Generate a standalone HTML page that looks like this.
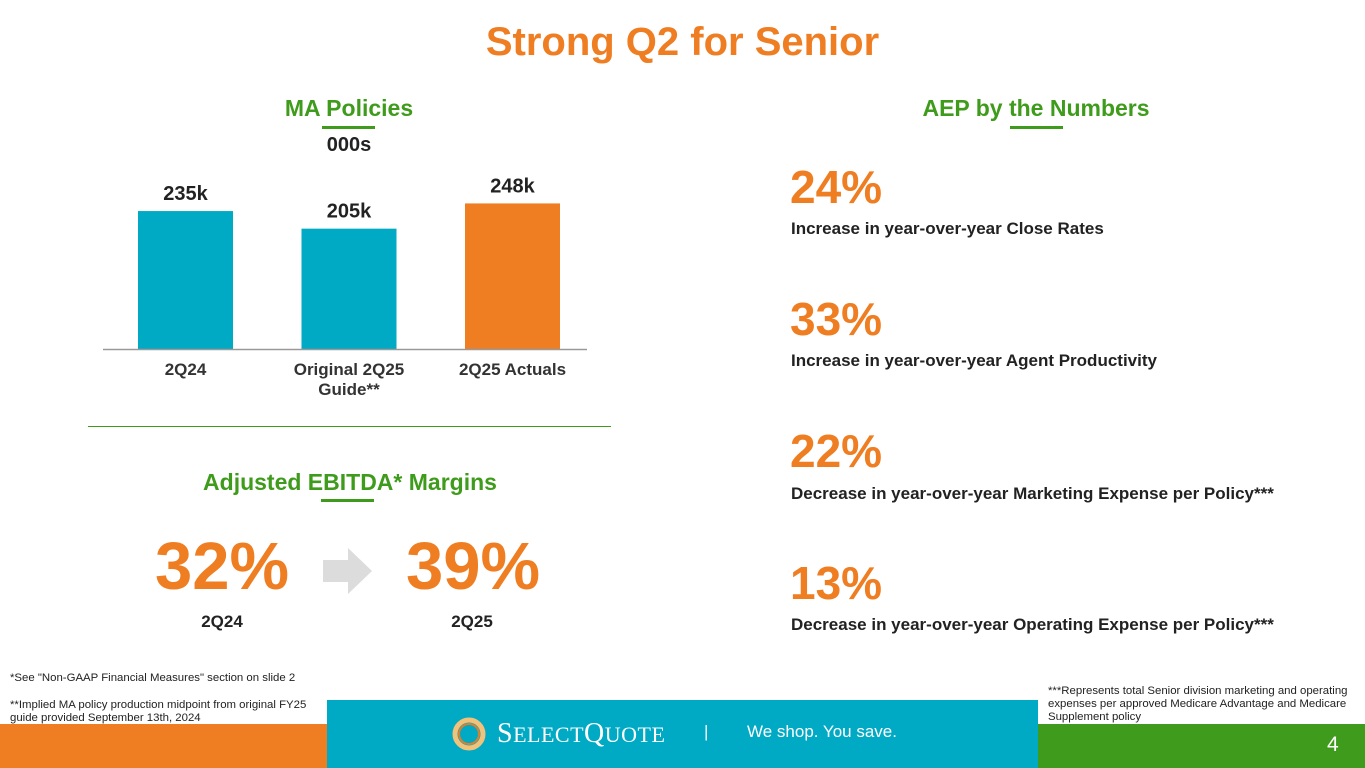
<!DOCTYPE html>
<html><head><meta charset="utf-8"><style>
body{margin:0;width:1365px;height:768px;position:relative;overflow:hidden;background:#fff;font-family:"Liberation Sans",Arial,sans-serif}
.a{position:absolute;white-space:nowrap}
.b{font-weight:bold}
.g{color:#3f9b1b}.o{color:#ef7d22}
.ul{position:absolute;height:3px;background:#3f9b1b}
.desc{font-size:17px;font-weight:bold;color:#222}
.num{font-size:46px;font-weight:bold;color:#ef7d22}
.fn{font-size:11.4px;color:#222;line-height:13px}
</style></head><body>
<div class="a b o" style="left:0;width:1365px;text-align:center;top:20px;font-size:40px">Strong Q2 for Senior</div>

<div class="a b g" style="left:249px;width:200px;text-align:center;top:95px;font-size:23px">MA Policies</div>
<div class="ul" style="left:322px;top:126px;width:53px"></div>
<div class="a b" style="left:299px;width:100px;text-align:center;top:134px;font-size:20px;color:#222">000s</div>

<svg class="a" style="left:0;top:0" width="620" height="420" id="chart"></svg>

<div class="a" style="left:88px;top:426px;width:523px;height:1px;background:#3f9b1b"></div>

<div class="a b g" style="left:150px;width:400px;text-align:center;top:469px;font-size:23px">Adjusted EBITDA* Margins</div>
<div class="ul" style="left:321px;top:499px;width:53px"></div>
<div class="a b o" style="left:155px;top:528px;font-size:67px">32%</div>
<svg class="a" style="left:323px;top:548px" width="50" height="46"><polygon points="0,12 25,12 25,0 49,23 25,46 25,34 0,34" fill="#dcdcdc"/></svg>
<div class="a b o" style="left:406px;top:528px;font-size:67px">39%</div>
<div class="a b" style="left:172px;width:100px;text-align:center;top:612px;font-size:17px;color:#222">2Q24</div>
<div class="a b" style="left:422px;width:100px;text-align:center;top:612px;font-size:17px;color:#222">2Q25</div>

<div class="a b g" style="left:886px;width:300px;text-align:center;top:95px;font-size:23px">AEP by the Numbers</div>
<div class="ul" style="left:1010px;top:126px;width:53px"></div>

<div class="a num" style="left:790px;top:160px">24%</div>
<div class="a desc" style="left:791px;top:219px">Increase in year-over-year Close Rates</div>
<div class="a num" style="left:790px;top:292px">33%</div>
<div class="a desc" style="left:791px;top:351px">Increase in year-over-year Agent Productivity</div>
<div class="a num" style="left:790px;top:424px">22%</div>
<div class="a desc" style="left:791px;top:484px">Decrease in year-over-year Marketing Expense per Policy***</div>
<div class="a num" style="left:790px;top:556px">13%</div>
<div class="a desc" style="left:791px;top:615px">Decrease in year-over-year Operating Expense per Policy***</div>

<div class="a fn" style="left:10px;top:672px">*See "Non-GAAP Financial Measures" section on slide 2</div>
<div class="a fn" style="left:10px;top:699px">**Implied MA policy production midpoint from original FY25<br>guide provided September 13th, 2024</div>
<div class="a fn" style="left:1048px;top:685px">***Represents total Senior division marketing and operating<br>expenses per approved Medicare Advantage and Medicare<br>Supplement policy</div>

<div class="a" style="left:0;top:724px;width:327px;height:44px;background:#ef7d22"></div>
<div class="a" style="left:327px;top:700px;width:711px;height:68px;background:#00a9c4"></div>
<div class="a" style="left:1038px;top:724px;width:327px;height:44px;background:#3f9b1b"></div>
<svg class="a" style="left:451px;top:716px" width="36" height="36"><circle cx="18" cy="18" r="14" fill="none" stroke="#f3c27a" stroke-width="5"/><circle cx="18" cy="18" r="10" fill="none" stroke="#e07f2a" stroke-width="2"/></svg>
<div class="a" style="left:497px;top:718px;font-family:'Liberation Serif',serif;font-size:28px;color:#fff;letter-spacing:0.5px">S<span style="font-size:22px">ELECT</span>Q<span style="font-size:22px">UOTE</span></div>
<div class="a" style="left:704px;top:722px;font-size:17px;color:#fff">|</div>
<div class="a" style="left:747px;top:722px;font-size:17px;color:#fff">We shop. You save.</div>
<div class="a" style="left:1327px;top:733px;font-size:21px;color:#fff">4</div>

<script>
const categories = ["2Q24", "Original 2Q25|Guide**", "2Q25 Actuals"];
const values = [235, 205, 248];
const valueLabels = ["235k", "205k", "248k"];
const barColors = ["#00a9c4", "#00a9c4", "#ef7d22"];

const svg = document.getElementById('chart');
const NS = "http://www.w3.org/2000/svg";
const baseY = 349, pxPerUnit = 0.587;
const yScale = v => baseY - v * pxPerUnit;
const xCenter = i => 185.5 + i * 163.5;
const barW = 95;

const axis = document.createElementNS(NS, 'line');


axis.setAttribute('x1', 103); axis.setAttribute('x2', 587);
axis.setAttribute('y1', baseY + 0.5); axis.setAttribute('y2', baseY + 0.5);
axis.setAttribute('stroke', '#999'); axis.setAttribute('stroke-width', 1.5);

values.forEach((v, i) => {
  const r = document.createElementNS(NS, 'rect');
  
  
  r.setAttribute('x', xCenter(i) - barW / 2);
  r.setAttribute('y', yScale(v));
  r.setAttribute('width', barW);
  r.setAttribute('height', baseY - yScale(v));
  r.setAttribute('fill', barColors[i]);
  svg.appendChild(r);

  const t = document.createElementNS(NS, 'text');
  
  
  t.setAttribute('x', xCenter(i)); t.setAttribute('y', yScale(v) - 11);
  t.setAttribute('text-anchor', 'middle');
  t.setAttribute('font-size', 20); t.setAttribute('font-weight', 'bold');
  t.setAttribute('fill', '#222');
  t.textContent = valueLabels[i];
  svg.appendChild(t);

  categories[i].split('|').forEach((line, j) => {
    const c = document.createElementNS(NS, 'text');
    
    
    c.setAttribute('x', xCenter(i)); c.setAttribute('y', 375 + j * 20);
    c.setAttribute('text-anchor', 'middle');
    c.setAttribute('font-size', 17); c.setAttribute('font-weight', 'bold');
    c.setAttribute('fill', '#333');
    c.textContent = line;
    svg.appendChild(c);
  });
});
svg.appendChild(axis);
</script>
</body></html>
